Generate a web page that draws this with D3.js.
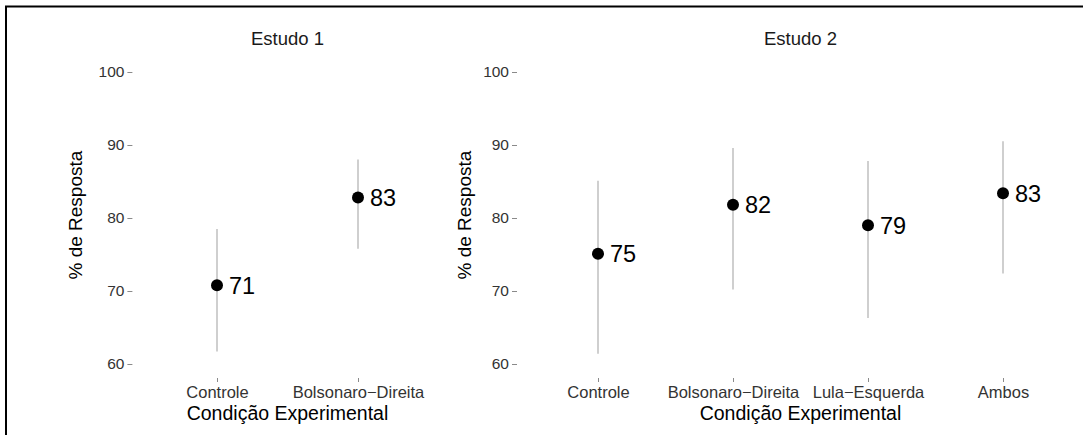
<!DOCTYPE html>
<html>
<head>
<meta charset="utf-8">
<script src="https://cdn.jsdelivr.net/npm/d3@7"></script>
<style>
  html, body { margin: 0; padding: 0; background: #fff; }
  svg { display: block; font-family: "Liberation Sans", Arial, Helvetica, sans-serif; }
</style>
</head>
<body>
<svg id="chart" width="1083" height="435"></svg>
<script>
// ---- data ----
const study1Categories = ["Controle", "Bolsonaro\u2212Direita"];
const study1Means = [70.8, 82.8];
const study1Low = [61.7, 75.8];
const study1High = [78.5, 88.0];
const study1Labels = ["71", "83"];

const study2Categories = ["Controle", "Bolsonaro\u2212Direita", "Lula\u2212Esquerda", "Ambos"];
const study2Means = [75.1, 81.8, 79.0, 83.4];
const study2Low = [61.4, 70.2, 66.3, 72.4];
const study2High = [85.1, 89.6, 87.8, 90.5];
const study2Labels = ["75", "82", "79", "83"];

const yTicks = [60, 70, 80, 90, 100];
const panelTitles = ["Estudo 1", "Estudo 2"];
const xTitle = "Condi\u00e7\u00e3o Experimental";
const yTitle = "% de Resposta";

// ---- layout ----
const svg = d3.select("#chart");

// outer frame
svg.append("rect")
  .attr("x", 6).attr("y", 6.5)
  .attr("width", 1200).attr("height", 600)
  .attr("fill", "none").attr("stroke", "#000").attr("stroke-width", 2);

const y = d3.scaleLinear().domain([60, 100]).range([364, 72]);
const plotBottom = 378;

function drawPanel(cfg) {
  const g = svg.append("g");
  const x = d3.scalePoint().domain(cfg.categories).range([cfg.left, cfg.right]).padding(0.6);

  // y axis
  const yAxis = g.append("g")
    .attr("transform", `translate(${cfg.left},0)`)
    .call(d3.axisLeft(y).tickValues(yTicks).tickSize(5).tickPadding(3).tickFormat(d3.format("d")));
  yAxis.select(".domain").remove();
  yAxis.selectAll(".tick line").attr("stroke", "#8a8a8a");
  yAxis.selectAll(".tick text")
    .attr("fill", "#333")
    .style("font-size", "15.5px")
    .style("font-family", "Liberation Sans, Arial, sans-serif");

  // x axis
  const xAxis = g.append("g")
    .attr("transform", `translate(0,${plotBottom})`)
    .call(d3.axisBottom(x).tickSize(4).tickPadding(4.3));
  xAxis.select(".domain").remove();
  xAxis.selectAll(".tick line").attr("stroke", "#8a8a8a");
  xAxis.selectAll(".tick text")
    .attr("fill", "#333")
    .style("font-size", "16.5px")
    .style("font-family", "Liberation Sans, Arial, sans-serif");

  const data = cfg.categories.map((c, i) => ({
    cat: c, mean: cfg.means[i], lo: cfg.low[i], hi: cfg.high[i], label: cfg.labels[i]
  }));

  // error bars
  g.selectAll("line.err").data(data).join("line")
    .attr("class", "err")
    .attr("x1", d => x(d.cat)).attr("x2", d => x(d.cat))
    .attr("y1", d => y(d.lo)).attr("y2", d => y(d.hi))
    .attr("stroke", "#cfcfcf").attr("stroke-width", 2);

  // points
  g.selectAll("circle.pt").data(data).join("circle")
    .attr("class", "pt")
    .attr("cx", d => x(d.cat)).attr("cy", d => y(d.mean))
    .attr("r", 6).attr("fill", "#000");

  // value labels
  g.selectAll("text.val").data(data).join("text")
    .attr("class", "val")
    .attr("x", d => x(d.cat) + 12)
    .attr("y", d => y(d.mean))
    .attr("dy", "0.36em")
    .attr("fill", "#000")
    .style("font-size", "23.5px")
    .text(d => d.label);

  const center = (cfg.left + cfg.right) / 2;

  // panel title
  g.append("text")
    .attr("x", center).attr("y", 45)
    .attr("text-anchor", "middle")
    .attr("fill", "#1a1a1a")
    .style("font-size", "18.5px")
    .text(cfg.title);

  // x title
  g.append("text")
    .attr("x", center).attr("y", 420)
    .attr("text-anchor", "middle")
    .attr("fill", "#000")
    .style("font-size", "19.5px")
    .text(xTitle);

  // y title
  g.append("text")
    .attr("transform", `translate(${cfg.yTitleX},${y(80.4)}) rotate(-90)`)
    .attr("text-anchor", "middle")
    .attr("fill", "#000")
    .style("font-size", "19px")
    .text(yTitle);
}

drawPanel({
  categories: study1Categories, means: study1Means, low: study1Low, high: study1High,
  labels: study1Labels, title: panelTitles[0], left: 132.4, right: 442.6, yTitleX: 82
});
drawPanel({
  categories: study2Categories, means: study2Means, low: study2Low, high: study2High,
  labels: study2Labels, title: panelTitles[1], left: 517, right: 1084, yTitleX: 471
});
</script>
</body>
</html>
